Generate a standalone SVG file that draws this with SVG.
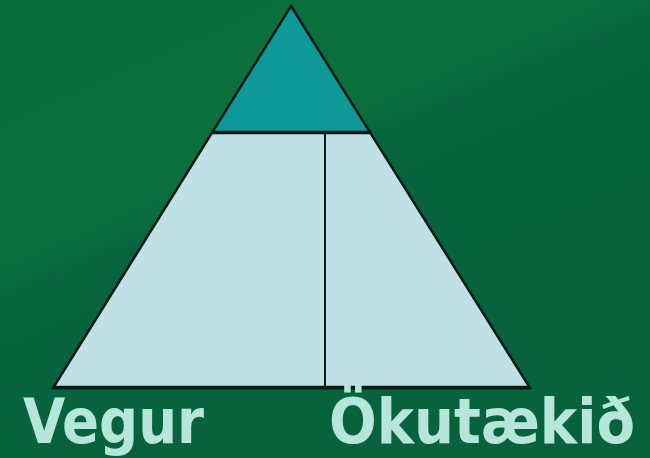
<svg xmlns="http://www.w3.org/2000/svg" width="650" height="458" viewBox="0 0 650 458">
  <defs>
    <linearGradient id="bg" x1="0" y1="0" x2="275" y2="624" gradientUnits="userSpaceOnUse">
      <stop offset="0" stop-color="#0a6b3c"/>
      <stop offset="0.33" stop-color="#0b703e"/>
      <stop offset="0.36" stop-color="#0b6e3e"/>
      <stop offset="0.41" stop-color="#07643e"/>
      <stop offset="1" stop-color="#07613d"/>
    </linearGradient>
  </defs>
  <style>
    .edge { stroke: #0a1a14; stroke-linejoin: miter; fill: none; }
    .label { font-family: "DejaVu Sans Condensed", "DejaVu Sans", "Liberation Sans", sans-serif; font-stretch: condensed; font-weight: bold; font-size: 62px; fill: #b6e6da; }
  </style>
  <rect x="0" y="0" width="650" height="458" fill="url(#bg)"/>
  <g id="top">
    <polygon points="291,6 211,133 371,133" fill="#0f9898"/>
  </g>
  <g id="left">
    <polygon points="211,133 325,133 325,388 53,388" fill="#bfe1e6"/>
  </g>
  <g id="right">
    <polygon points="325,133 371,133 530,388 325,388" fill="#bfe1e6"/>
  </g>
  <g id="connectors">
    <polygon class="edge" points="291,6 530,388 53,388" stroke-width="2.5"/>
    <line class="edge" x1="211" y1="132.5" x2="371" y2="132.5" stroke-width="3.5"/>
    <line class="edge" x1="325" y1="133" x2="325" y2="388" stroke-width="2"/>
    <line class="edge" x1="53" y1="387.5" x2="530" y2="387.5" stroke-width="3.5"/>
  </g>
  <g id="label-vegur">
    <text class="label" x="23" y="443" textLength="181" lengthAdjust="spacingAndGlyphs">Vegur</text>
  </g>
  <g id="label-okutaekid">
    <text class="label" x="329" y="443" textLength="306" lengthAdjust="spacingAndGlyphs">Ökutækið</text>
  </g>
</svg>
